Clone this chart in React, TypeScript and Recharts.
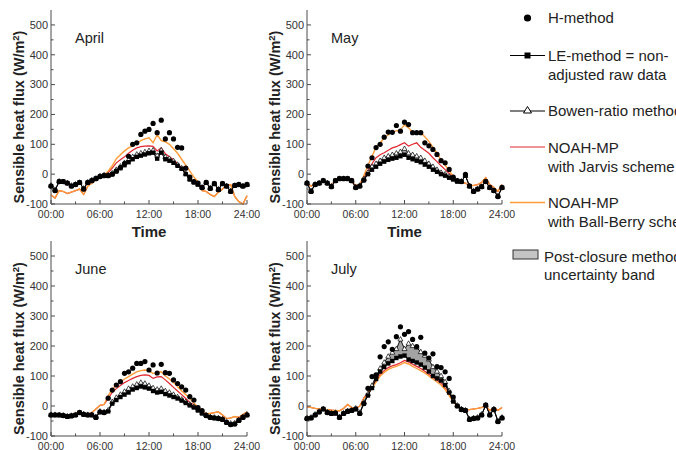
import { ComposedChart, Line, Area, XAxis, YAxis } from 'recharts'

const FONT = '"Liberation Sans", Arial, Helvetica, sans-serif'
const FRAME = '#4a4a4a'
const TXT = '#333'
const RED = '#e3262f'
const ORANGE = '#ff9c38'

// half-hourly time stamps (hours)
const TIME = [
  0, 0.5, 1, 1.5, 2, 2.5, 3, 3.5, 4, 4.5, 5, 5.5,
  6, 6.5, 7, 7.5, 8, 8.5, 9, 9.5, 10, 10.5, 11, 11.5,
  12, 12.5, 13, 13.5, 14, 14.5, 15, 15.5, 16, 16.5, 17, 17.5,
  18, 18.5, 19, 19.5, 20, 20.5, 21, 21.5, 22, 22.5, 23, 23.5,
  24,
]
const X_TICKS = [0, 3, 6, 9, 12, 15, 18, 21, 24]
const X_LABELS = ['00:00', '', '06:00', '', '12:00', '', '18:00', '', '24:00']
const Y_TICKS = [-100, -50, 0, 50, 100, 150, 200, 250, 300, 350, 400, 450, 500]

// April
const H_APR = [
  -40, -55, -25, -25, -30, -40, -35, -28, -50, -28, -22, -15,
  -8, -5, -5, 0, 10, 22, 35, 60, 100, 105, 133, 144,
  150, 170, 139, 181, 118, 139, 118, 90, 88, 20, -10, -25,
  -30, -45, -28, -48, -32, -52, -32, -40, -58, -38, -35, -40,
  -35,
]
const LE_APR = [
  -40, -55, -25, -25, -30, -40, -35, -28, -50, -28, -22, -15,
  -8, -5, -5, 0, 10, 20, 30, 40, 50, 58, 62, 66,
  70, 72, 52, 72, 50, 45, 38, 28, 18, 0, -18, -28,
  -35, -45, -28, -48, -32, -52, -32, -40, -58, -38, -35, -40,
  -35,
]
const BOWEN_APR = [
  -38, -52, -24, -26, -30, -38, -34, -28, -48, -27, -20, -14,
  -6, -3, -3, 3, 15, 26, 38, 48, 58, 66, 70, 74,
  78, 80, 62, 80, 58, 52, 44, 32, 20, 2, -16, -26,
  -34, -44, -28, -46, -32, -50, -32, -40, -56, -38, -35, -40,
  -35,
]
const JARVIS_APR = [
  -70, -80, -55, -58, -65, -60, -55, -50, -68, -40, -30, -18,
  -8, -3, 5, 20, 38, 48, 58, 70, 80, 88, 92, 94,
  95, 93, 78, 88, 68, 58, 48, 35, 20, 0, -15, -28,
  -32, -55, -58, -68, -75, -60, -50, -38, -35, -75, -92, -100,
  -72,
]
const BB_APR = [
  -70, -80, -55, -58, -65, -60, -55, -50, -68, -40, -30, -18,
  -8, -2, 10, 28, 52, 65, 78, 88, 95, 102, 112, 118,
  122, 105, 132, 112, 108, 100, 85, 70, 50, 30, 10, -10,
  -25, -55, -58, -68, -75, -60, -50, -38, -35, -75, -92, -100,
  -72,
]

// May
const H_MAY = [
  -30, -58, -35, -30, -22, -30, -42, -22, -15, -15, -15, -22,
  -45, -40, -20, 27, 55, 89, 100, 124, 141, 140, 163, 144,
  174, 166, 139, 139, 139, 105, 95, 83, 66, 45, 38, 16,
  -10, -22, -25, -1, -40, -58, -50, -42, -25, -45, -55, -75,
  -45,
]
const LE_MAY = [
  -30, -58, -35, -30, -22, -30, -42, -22, -15, -15, -15, -22,
  -45, -40, -20, 0, 15, 25, 35, 42, 48, 52, 55, 60,
  65, 55, 50, 45, 40, 32, 25, 15, 8, 0, -5, -12,
  -18, -25, -25, -5, -40, -58, -50, -42, -25, -45, -55, -75,
  -45,
]
const BOWEN_MAY = [
  -30, -56, -34, -30, -22, -30, -40, -22, -15, -15, -15, -22,
  -43, -38, -16, 5, 25, 35, 45, 55, 60, 65, 70, 75,
  85, 70, 65, 60, 55, 45, 35, 25, 15, 5, 0, -8,
  -15, -22, -24, -5, -40, -56, -50, -42, -25, -45, -55, -73,
  -45,
]
const JARVIS_MAY = [
  -30, -40, -32, -28, -22, -30, -38, -22, -15, -15, -17, -25,
  -38, -35, -10, 12, 35, 55, 65, 72, 80, 88, 92, 99,
  105, 94, 100, 105, 90, 80, 70, 55, 42, 28, 15, 2,
  -12, -22, -28, -30, -38, -38, -35, -28, -12, -35, -45, -58,
  -35,
]
const BB_MAY = [
  -30, -40, -32, -28, -22, -30, -38, -22, -15, -15, -17, -25,
  -38, -35, -5, 30, 60, 90, 105, 120, 132, 140, 145, 148,
  165, 155, 140, 138, 139, 125, 110, 90, 70, 48, 30, 12,
  -8, -22, -28, -30, -38, -38, -35, -28, -12, -35, -45, -58,
  -35,
]

// June
const H_JUN = [
  -30, -30, -30, -32, -35, -33, -30, -22, -28, -30, -30, -38,
  -20, -22, 26, 53, 70, 81, 109, 114, 126, 142, 142, 148,
  120, 137, 110, 139, 111, 109, 87, 75, 64, 53, 31, 20,
  -5, -15, -32, -38, -40, -42, -45, -55, -62, -60, -48, -38,
  -30,
]
const LE_JUN = [
  -30, -30, -30, -32, -35, -33, -30, -22, -28, -30, -30, -38,
  -20, -22, -18, 8, 20, 30, 38, 45, 55, 60, 65, 62,
  58, 50, 45, 47, 40, 35, 30, 25, 18, 10, 2, -5,
  -15, -25, -32, -38, -40, -42, -45, -55, -62, -60, -48, -38,
  -30,
]
const BOWEN_JUN = [
  -29, -29, -30, -31, -34, -32, -29, -22, -27, -29, -29, -36,
  -18, -20, -14, 14, 28, 38, 48, 58, 65, 72, 78, 75,
  68, 60, 55, 58, 50, 45, 38, 30, 22, 14, 5, -2,
  -12, -22, -30, -36, -38, -40, -43, -52, -58, -57, -46, -36,
  -28,
]
const JARVIS_JUN = [
  -25, -28, -27, -30, -32, -30, -25, -20, -25, -28, -22, -10,
  2, 5, 25, 45, 58, 68, 78, 85, 92, 98, 102, 104,
  102, 92, 97, 98, 87, 75, 62, 50, 38, 25, 12, 3,
  -8, -18, -25, -25, -22, -20, -30, -42, -40, -35, -38, -28,
  -20,
]
const BB_JUN = [
  -25, -28, -27, -30, -32, -30, -25, -20, -25, -28, -22, -10,
  2, 5, 35, 55, 70, 80, 90, 98, 106, 114, 118, 120,
  118, 108, 112, 114, 100, 90, 78, 65, 50, 38, 25, 10,
  -5, -15, -25, -25, -22, -20, -30, -42, -40, -35, -38, -28,
  -20,
]

// July
const H_JUL = [
  -42, -40, -30, -20, -10, -22, -25, -24, -38, -25, -18, -15,
  -10, -25, 8, 59, 98, 104, 164, 198, 214, 189, 231, 264,
  239, 248, 222, 198, 229, 176, 160, 174, 131, 128, 114, 92,
  30, 0, -12, -15, -45, -42, -40, -30, 3, -30, -12, -52,
  -40,
]
const LE_JUL = [
  -42, -40, -30, -20, -10, -22, -25, -24, -38, -25, -18, -15,
  -10, -25, 8, 35, 60, 90, 115, 130, 142, 150, 160, 165,
  168, 155, 150, 145, 138, 128, 115, 100, 92, 85, 70, 45,
  15, 0, -12, -15, -45, -42, -40, -30, 3, -30, -12, -52,
  -40,
]
const BOWEN_JUL = [
  -40, -38, -28, -18, -10, -20, -24, -22, -36, -24, -16, -14,
  -8, -22, 12, 40, 68, 100, 125, 145, 165, 178, 190, 222,
  190, 208, 200, 195, 180, 168, 155, 130, 115, 100, 80, 50,
  20, 2, -10, -14, -43, -40, -38, -28, 3, -28, -10, -50,
  -38,
]
const JARVIS_JUL = [
  -3, -5, -8, -10, -12, -12, -14, -15, -16, -8, 5, -5,
  -8, 0, 27, 44, 65, 86, 106, 118, 128, 134, 138, 144,
  152, 147, 139, 132, 125, 116, 106, 96, 86, 76, 60, 40,
  18, 2, -8, -12, -12, -10, -8, -5, 2, -15, -5, -15,
  -5,
]
const BB_JUL = [
  -3, -5, -8, -10, -12, -12, -14, -15, -16, -8, 5, -5,
  -8, 0, 25, 40, 60, 80, 100, 112, 122, 128, 132, 138,
  145, 140, 132, 125, 118, 110, 100, 90, 80, 70, 55, 35,
  15, 0, -8, -12, -12, -10, -8, -5, 2, -15, -5, -15,
  -5,
]

const PANELS = [
  { name: 'April', h: H_APR, le: LE_APR, bowen: BOWEN_APR, jarvis: JARVIS_APR, bb: BB_APR, left: 51, top: 10, w: 196, ht: 194, time: true },
  { name: 'May', h: H_MAY, le: LE_MAY, bowen: BOWEN_MAY, jarvis: JARVIS_MAY, bb: BB_MAY, left: 307, top: 10, w: 195, ht: 194, time: true },
  { name: 'June', h: H_JUN, le: LE_JUN, bowen: BOWEN_JUN, jarvis: JARVIS_JUN, bb: BB_JUN, left: 51, top: 241, w: 196, ht: 195, time: false },
  { name: 'July', h: H_JUL, le: LE_JUL, bowen: BOWEN_JUL, jarvis: JARVIS_JUL, bb: BB_JUL, left: 307, top: 241, w: 195, ht: 195, time: false },
]

const YW = 40
const XH = 25
const MR = 20

const BottomTick = ({ x, y, payload }: any) => {
  const i = X_TICKS.indexOf(payload.value)
  const major = X_LABELS[i] !== ''
  return (
    <g>
      <line x1={x} x2={x} y1={y} y2={y - (major ? 4 : 2.5)} stroke={FRAME} />
      {major && <text x={x} y={y + 13.5} textAnchor="middle" fontSize={10.5} fontFamily={FONT} fill={TXT}>{X_LABELS[i]}</text>}
    </g>
  )
}
const TopTick = ({ x, y, payload }: any) => {
  const major = payload.value % 6 === 0
  return <line x1={x} x2={x} y1={y} y2={y + (major ? 4 : 2.5)} stroke={FRAME} />
}
const LeftTick = ({ x, y, payload }: any) => {
  const major = payload.value % 100 === 0
  return (
    <g>
      <line x1={x} x2={x + (major ? 4 : 2.5)} y1={y} y2={y} stroke={FRAME} />
      {major && <text x={x - 3} y={y} dy="0.35em" textAnchor="end" fontSize={11} fontFamily={FONT} fill={TXT}>{payload.value}</text>}
    </g>
  )
}
const RightTick = ({ x, y, payload }: any) => {
  const major = payload.value % 100 === 0
  return <line x1={x} x2={x - (major ? 4 : 2.5)} y1={y} y2={y} stroke={FRAME} />
}

const squareDot = (p: any) => (
  <rect key={`s${p.index}`} x={p.cx - 2.2} y={p.cy - 2.2} width={4.4} height={4.4} fill="#000" />
)
const triangleDot = (p: any) => (
  <path key={`t${p.index}`} d={`M${p.cx},${p.cy - 2.8}L${p.cx + 2.5},${p.cy + 1.6}L${p.cx - 2.5},${p.cy + 1.6}Z`}
    fill="#fff" stroke="#000" strokeWidth={0.7} />
)

function Panel({ p }: { p: typeof PANELS[number] }) {
  const rows = TIME.map((t, i) => ({
    t, h: p.h[i], le: p.le[i], bowen: p.bowen[i], jarvis: p.jarvis[i], bb: p.bb[i],
    band: [p.le[i], p.bowen[i]],
  }))
  return (
    <div style={{ position: 'absolute', left: p.left - YW, top: p.top - 5 }}>
      <ComposedChart width={YW + p.w + MR} height={5 + p.ht + XH} data={rows} margin={{ top: 5, right: MR, bottom: 0, left: 0 }}>
        <XAxis xAxisId="b" dataKey="t" type="number" domain={[0, 24]} ticks={X_TICKS} interval={0}
          tickSize={0} tickMargin={0} tick={BottomTick} tickLine={false} axisLine={{ stroke: FRAME }} height={XH} />
        <XAxis xAxisId="t" orientation="top" dataKey="t" type="number" domain={[0, 24]} ticks={X_TICKS} interval={0}
          tickSize={0} tickMargin={0} tick={TopTick} tickLine={false} axisLine={{ stroke: FRAME }} height={0} />
        <YAxis yAxisId="l" type="number" domain={[-100, 550]} ticks={Y_TICKS} interval={0}
          tickSize={0} tickMargin={0} tick={LeftTick} tickLine={false} axisLine={{ stroke: FRAME }} width={YW} />
        <YAxis yAxisId="r" orientation="right" type="number" domain={[-100, 550]} ticks={Y_TICKS} interval={0}
          tickSize={0} tickMargin={0} tick={RightTick} tickLine={false} axisLine={{ stroke: FRAME }} width={0} />
        <Area xAxisId="t" yAxisId="r" dataKey="band" type="linear" fill="#a3a3a3" fillOpacity={1}
          stroke="#555" strokeWidth={0.5} activeDot={false} isAnimationActive={false} />
        <Line xAxisId="b" yAxisId="l" dataKey="jarvis" type="linear" stroke={RED} strokeWidth={1.2}
          dot={false} activeDot={false} isAnimationActive={false} />
        <Line xAxisId="b" yAxisId="l" dataKey="bb" type="linear" stroke={ORANGE} strokeWidth={1.4}
          dot={false} activeDot={false} isAnimationActive={false} />
        <Line xAxisId="b" yAxisId="l" dataKey="bowen" type="linear" stroke="#000" strokeWidth={0.8}
          dot={triangleDot} activeDot={false} isAnimationActive={false} />
        <Line xAxisId="b" yAxisId="l" dataKey="le" type="linear" stroke="#000" strokeWidth={1}
          dot={squareDot} activeDot={false} isAnimationActive={false} />
        <Line xAxisId="b" yAxisId="l" dataKey="h" type="linear" stroke="none"
          dot={{ r: 2.6, fill: '#000', stroke: 'none' }} activeDot={false} isAnimationActive={false} />
      </ComposedChart>
    </div>
  )
}

function Labels() {
  return (
    <svg width={676} height={450} style={{ position: 'absolute', left: 0, top: 0, pointerEvents: 'none' }} fontFamily={FONT}>
      {PANELS.map(p => {
        const cx = p.left + p.w / 2
        const cy = p.top + p.ht / 2 + 10
        const lx = p.left - 27
        return (
          <g key={p.name}>
            <text x={p.left + 24} y={p.top + 33} fontSize={14.5} fill="#222">{p.name}</text>
            <text transform={`translate(${lx},${cy}) rotate(-90)`} textAnchor="middle" fontSize={14.5} fontWeight="bold" fill="#222">
              Sensible heat flux (W/m<tspan dy={-5} fontSize={9.5}>2</tspan><tspan dy={5}>)</tspan>
            </text>
            {p.time && <text x={cx} y={p.top + p.ht + 32.5} textAnchor="middle" fontSize={15} fontWeight="bold" fill="#222">Time</text>}
          </g>
        )
      })}
      <g fontSize={15} fill="#222">
        <circle cx={527.5} cy={18} r={3.6} fill="#000" />
        <text x={548} y={23}>H-method</text>

        <line x1={510} x2={545} y1={55.5} y2={55.5} stroke="#000" />
        <rect x={524.5} y={52.5} width={6} height={6} fill="#000" />
        <text x={548} y={60.5}>LE-method = non-</text>
        <text x={548} y={79.5}>adjusted raw data</text>

        <line x1={510} x2={545} y1={111} y2={111} stroke="#000" />
        <path d="M527.5,106.5L531.5,113L523.5,113Z" fill="#fff" stroke="#000" />
        <text x={548} y={116}>Bowen-ratio method</text>

        <line x1={510} x2={545} y1={147} y2={147} stroke={RED} strokeWidth={1.2} />
        <text x={548} y={153}>NOAH-MP</text>
        <text x={548} y={172}>with Jarvis scheme</text>

        <line x1={510} x2={545} y1={202.5} y2={202.5} stroke={ORANGE} strokeWidth={1.4} />
        <text x={548} y={208}>NOAH-MP</text>
        <text x={548} y={227}>with Ball-Berry scheme</text>

        <rect x={513} y={250} width={25} height={9} fill="#c4c4c4" stroke="#333" />
        <text x={544} y={262}>Post-closure method</text>
        <text x={544} y={280}>uncertainty band</text>
      </g>
    </svg>
  )
}

export default function App() {
  return (
    <div style={{ position: 'absolute', left: 0, top: 0, width: 676, height: 450, overflow: 'hidden', background: '#fff' }}>
      {PANELS.map(p => <Panel key={p.name} p={p} />)}
      <Labels />
    </div>
  )
}
